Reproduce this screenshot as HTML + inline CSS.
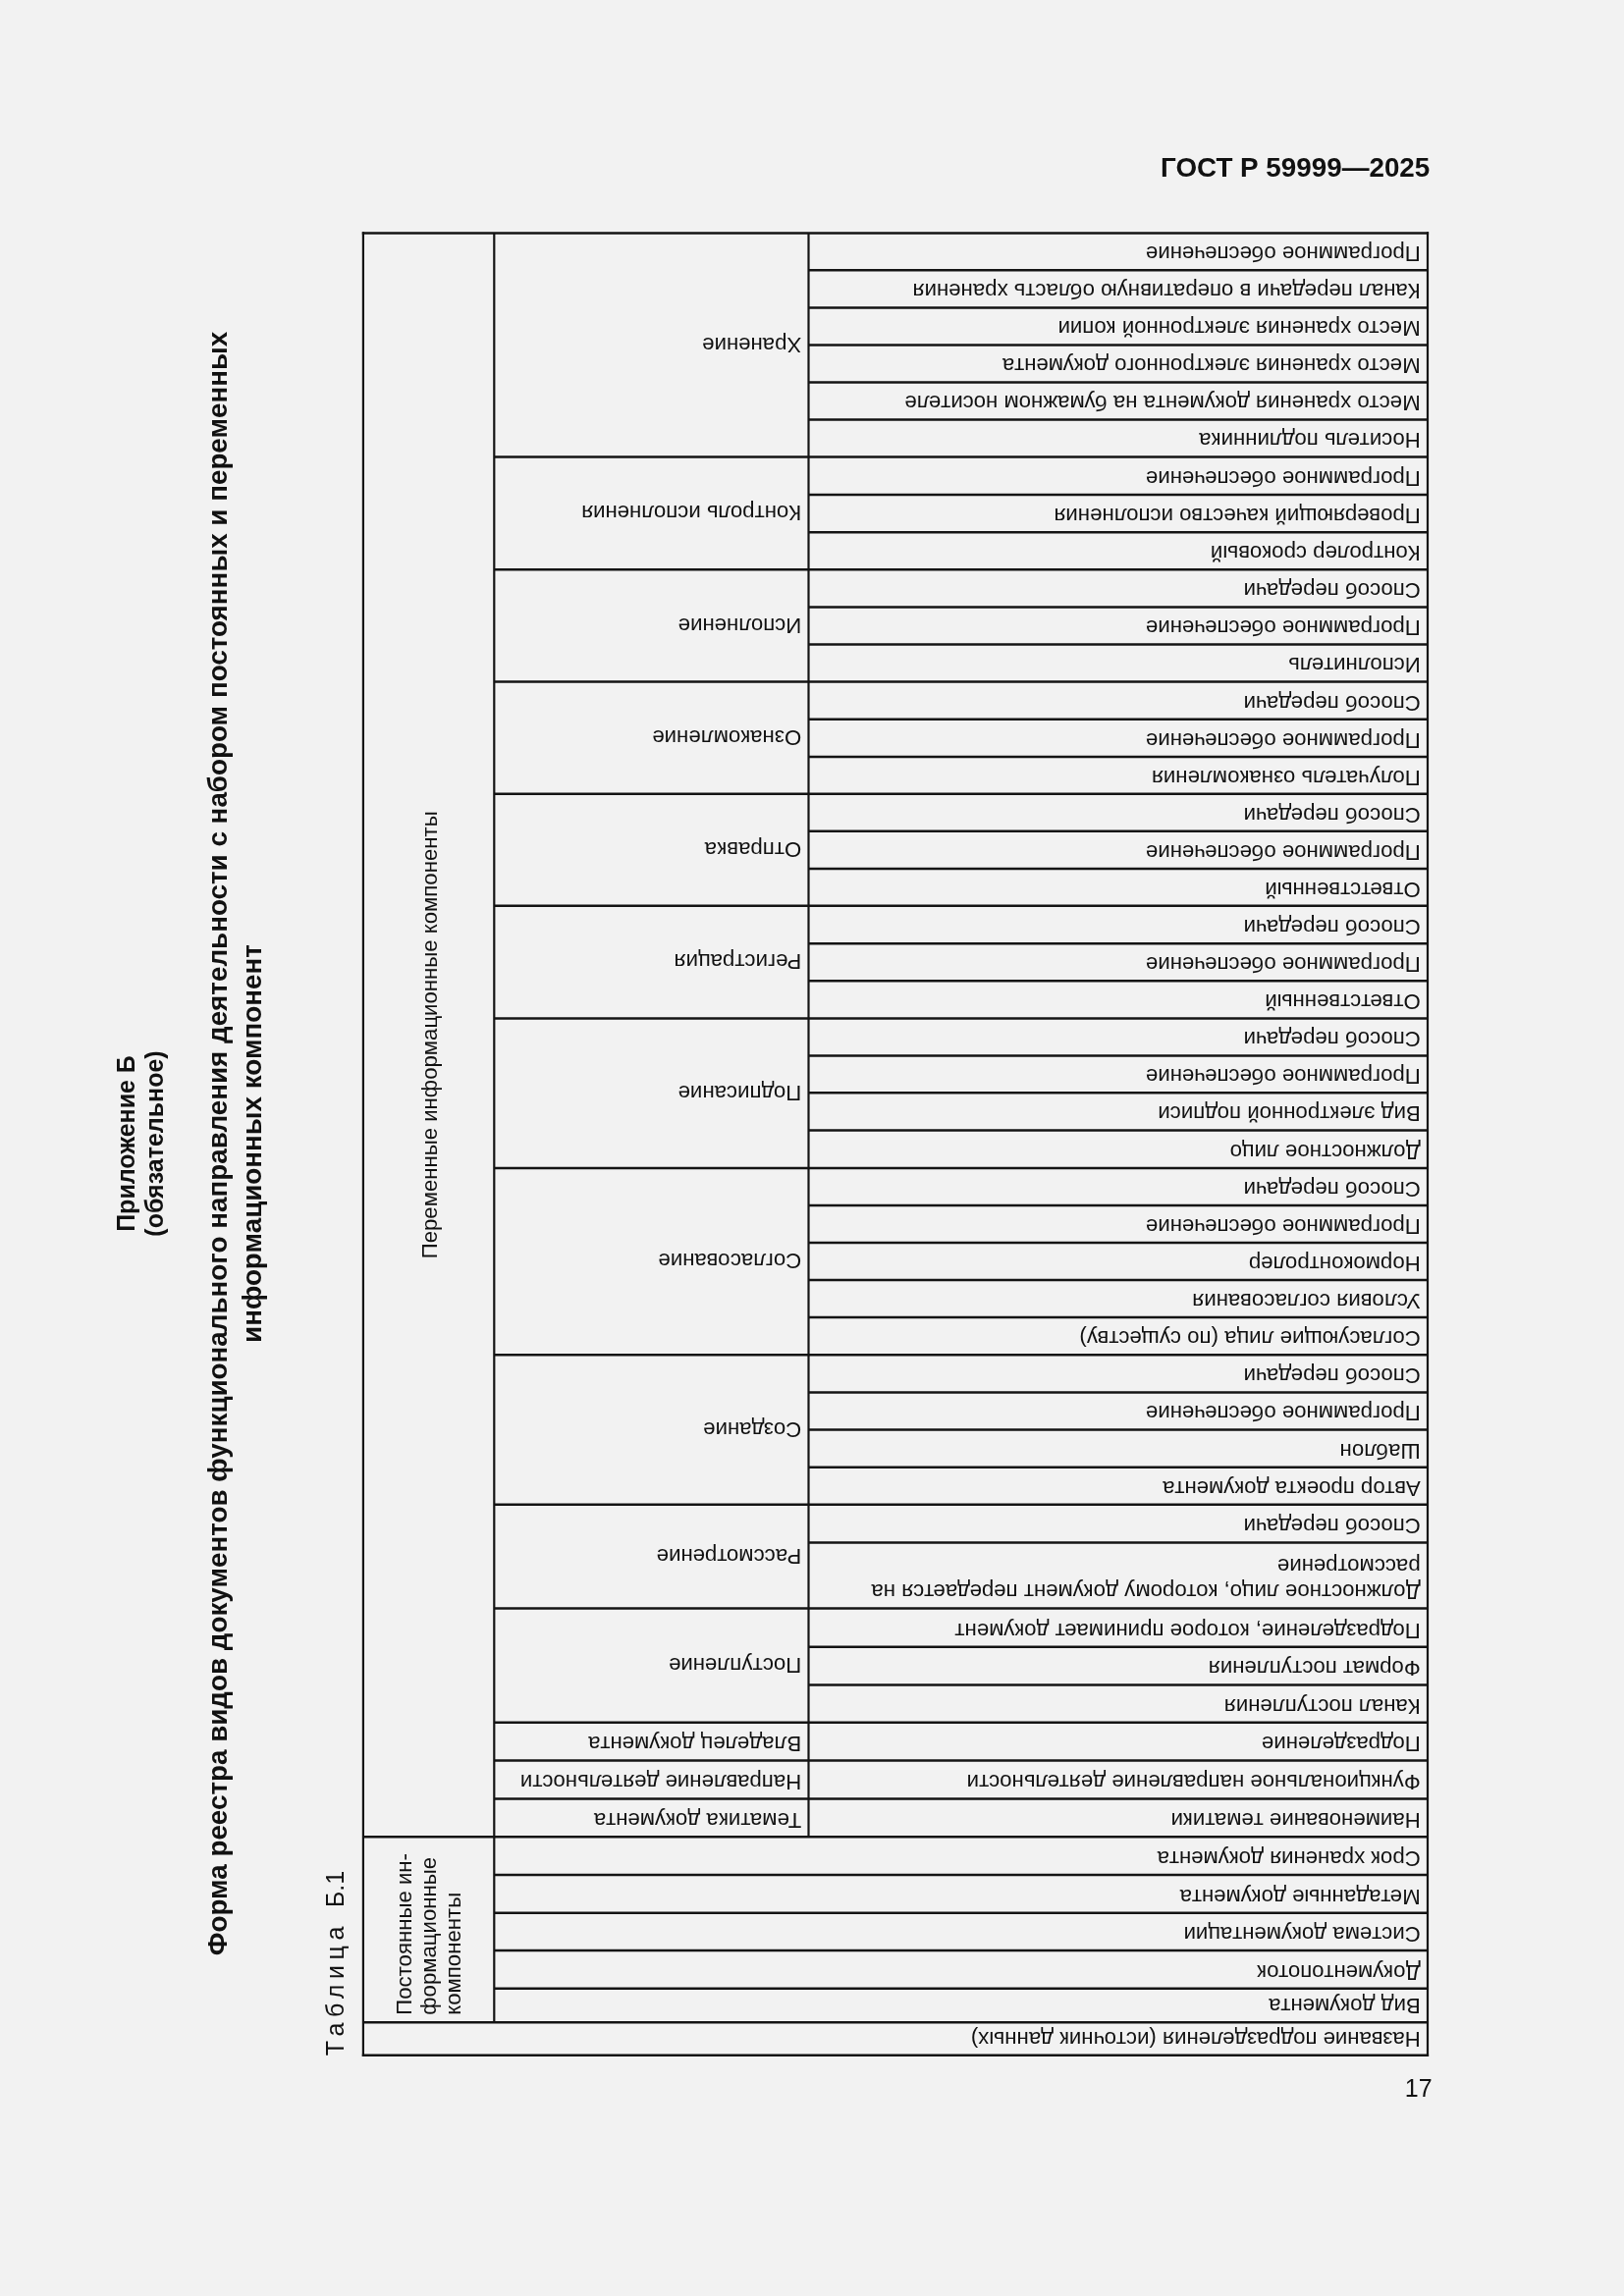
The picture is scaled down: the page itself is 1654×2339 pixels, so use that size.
<!DOCTYPE html>
<html><head><meta charset="utf-8"><title>ГОСТ Р 59999—2025</title>
<style>
html,body{margin:0;padding:0;background:#f2f2f2;}
body{width:1654px;height:2339px;overflow:hidden;position:relative;font-family:"Liberation Sans",sans-serif;}
svg{position:absolute;left:0;top:0;filter:grayscale(1);}
svg text{font-family:"Liberation Sans",sans-serif;fill:#111111;}
</style></head><body>
<svg width="1654" height="2339" viewBox="0 0 1654 2339">
<text x="1456.3" y="180.0" font-size="27.8" font-weight="bold" text-anchor="end">ГОСТ Р 59999—2025</text>
<text x="1458.6" y="2136" font-size="25" text-anchor="end">17</text>
<g>
<text x="136.6" y="1165" transform="rotate(-90 136.6 1165)" font-size="25" font-weight="bold" text-anchor="middle">Приложение Б</text>
<text x="166.3" y="1165" transform="rotate(-90 166.3 1165)" font-size="25" font-weight="bold" text-anchor="middle">(обязательное)</text>
<text x="231" y="1165" transform="rotate(-90 231 1165)" font-size="27.8" font-weight="bold" text-anchor="middle">Форма реестра видов документов функционального направления деятельности с набором постоянных и переменных</text>
<text x="265.5" y="1165" transform="rotate(-90 265.5 1165)" font-size="27.8" font-weight="bold" text-anchor="middle">информационных компонент</text>
<text x="349.8" y="2094.3" transform="rotate(-90 349.8 2094.3)" font-size="25"><tspan letter-spacing="5.6">Таблица</tspan><tspan dx="7"> Б.1</tspan></text>
</g>
<g stroke="#141414" fill="none" stroke-linecap="butt">
<line x1="368.80" y1="237.40" x2="1455.10" y2="237.40" stroke-width="2.5"/>
<line x1="368.80" y1="2093.80" x2="1455.10" y2="2093.80" stroke-width="2.5"/>
<line x1="369.90" y1="236.15" x2="369.90" y2="2095.05" stroke-width="2.2"/>
<line x1="1454.00" y1="236.15" x2="1454.00" y2="2095.05" stroke-width="2.2"/>
<line x1="503.30" y1="237.40" x2="503.30" y2="2060.30" stroke-width="2.2"/>
<line x1="823.50" y1="237.40" x2="823.50" y2="1871.20" stroke-width="2.2"/>
<line x1="823.50" y1="275.20" x2="1454.00" y2="275.20" stroke-width="2.5"/>
<line x1="823.50" y1="313.60" x2="1454.00" y2="313.60" stroke-width="2.5"/>
<line x1="823.50" y1="351.60" x2="1454.00" y2="351.60" stroke-width="2.5"/>
<line x1="823.50" y1="389.60" x2="1454.00" y2="389.60" stroke-width="2.5"/>
<line x1="823.50" y1="427.60" x2="1454.00" y2="427.60" stroke-width="2.5"/>
<line x1="503.30" y1="465.60" x2="1454.00" y2="465.60" stroke-width="2.5"/>
<line x1="823.50" y1="503.90" x2="1454.00" y2="503.90" stroke-width="2.5"/>
<line x1="823.50" y1="542.20" x2="1454.00" y2="542.20" stroke-width="2.5"/>
<line x1="503.30" y1="580.30" x2="1454.00" y2="580.30" stroke-width="2.5"/>
<line x1="823.50" y1="618.40" x2="1454.00" y2="618.40" stroke-width="2.5"/>
<line x1="823.50" y1="656.50" x2="1454.00" y2="656.50" stroke-width="2.5"/>
<line x1="503.30" y1="694.60" x2="1454.00" y2="694.60" stroke-width="2.5"/>
<line x1="823.50" y1="732.80" x2="1454.00" y2="732.80" stroke-width="2.5"/>
<line x1="823.50" y1="770.90" x2="1454.00" y2="770.90" stroke-width="2.5"/>
<line x1="503.30" y1="808.70" x2="1454.00" y2="808.70" stroke-width="2.5"/>
<line x1="823.50" y1="846.80" x2="1454.00" y2="846.80" stroke-width="2.5"/>
<line x1="823.50" y1="884.90" x2="1454.00" y2="884.90" stroke-width="2.5"/>
<line x1="503.30" y1="922.70" x2="1454.00" y2="922.70" stroke-width="2.5"/>
<line x1="823.50" y1="961.20" x2="1454.00" y2="961.20" stroke-width="2.5"/>
<line x1="823.50" y1="999.30" x2="1454.00" y2="999.30" stroke-width="2.5"/>
<line x1="503.30" y1="1037.40" x2="1454.00" y2="1037.40" stroke-width="2.5"/>
<line x1="823.50" y1="1075.50" x2="1454.00" y2="1075.50" stroke-width="2.5"/>
<line x1="823.50" y1="1113.30" x2="1454.00" y2="1113.30" stroke-width="2.5"/>
<line x1="823.50" y1="1151.60" x2="1454.00" y2="1151.60" stroke-width="2.5"/>
<line x1="503.30" y1="1189.90" x2="1454.00" y2="1189.90" stroke-width="2.5"/>
<line x1="823.50" y1="1228.00" x2="1454.00" y2="1228.00" stroke-width="2.5"/>
<line x1="823.50" y1="1265.90" x2="1454.00" y2="1265.90" stroke-width="2.5"/>
<line x1="823.50" y1="1304.00" x2="1454.00" y2="1304.00" stroke-width="2.5"/>
<line x1="823.50" y1="1341.90" x2="1454.00" y2="1341.90" stroke-width="2.5"/>
<line x1="503.30" y1="1380.20" x2="1454.00" y2="1380.20" stroke-width="2.5"/>
<line x1="823.50" y1="1418.40" x2="1454.00" y2="1418.40" stroke-width="2.5"/>
<line x1="823.50" y1="1456.40" x2="1454.00" y2="1456.40" stroke-width="2.5"/>
<line x1="823.50" y1="1494.70" x2="1454.00" y2="1494.70" stroke-width="2.5"/>
<line x1="503.30" y1="1532.80" x2="1454.00" y2="1532.80" stroke-width="2.5"/>
<line x1="823.50" y1="1571.40" x2="1454.00" y2="1571.40" stroke-width="2.5"/>
<line x1="503.30" y1="1638.60" x2="1454.00" y2="1638.60" stroke-width="2.5"/>
<line x1="823.50" y1="1677.70" x2="1454.00" y2="1677.70" stroke-width="2.5"/>
<line x1="823.50" y1="1716.40" x2="1454.00" y2="1716.40" stroke-width="2.5"/>
<line x1="503.30" y1="1754.70" x2="1454.00" y2="1754.70" stroke-width="2.5"/>
<line x1="503.30" y1="1793.60" x2="1454.00" y2="1793.60" stroke-width="2.5"/>
<line x1="503.30" y1="1832.40" x2="1454.00" y2="1832.40" stroke-width="2.5"/>
<line x1="369.90" y1="1871.20" x2="1454.00" y2="1871.20" stroke-width="2.5"/>
<line x1="503.30" y1="1910.00" x2="1454.00" y2="1910.00" stroke-width="2.5"/>
<line x1="503.30" y1="1948.80" x2="1454.00" y2="1948.80" stroke-width="2.5"/>
<line x1="503.30" y1="1987.00" x2="1454.00" y2="1987.00" stroke-width="2.5"/>
<line x1="503.30" y1="2025.80" x2="1454.00" y2="2025.80" stroke-width="2.5"/>
<line x1="369.90" y1="2060.30" x2="1454.00" y2="2060.30" stroke-width="2.5"/>
</g>
<g>
<text x="1446.70" y="251.00" transform="rotate(180 1446.70 251.00)" font-size="22.2" text-anchor="start">Программное обеспечение</text>
<text x="1446.70" y="289.40" transform="rotate(180 1446.70 289.40)" font-size="22.2" text-anchor="start">Канал передачи в оперативную область хранения</text>
<text x="1446.70" y="327.40" transform="rotate(180 1446.70 327.40)" font-size="22.2" text-anchor="start">Место хранения электронной копии</text>
<text x="1446.70" y="365.40" transform="rotate(180 1446.70 365.40)" font-size="22.2" text-anchor="start">Место хранения электронного документа</text>
<text x="1446.70" y="403.40" transform="rotate(180 1446.70 403.40)" font-size="22.2" text-anchor="start">Место хранения документа на бумажном носителе</text>
<text x="1446.70" y="441.40" transform="rotate(180 1446.70 441.40)" font-size="22.2" text-anchor="start">Носитель подлинника</text>
<text x="1446.70" y="479.70" transform="rotate(180 1446.70 479.70)" font-size="22.2" text-anchor="start">Программное обеспечение</text>
<text x="1446.70" y="518.00" transform="rotate(180 1446.70 518.00)" font-size="22.2" text-anchor="start">Проверяющий качество исполнения</text>
<text x="1446.70" y="556.10" transform="rotate(180 1446.70 556.10)" font-size="22.2" text-anchor="start">Контролер сроковый</text>
<text x="1446.70" y="594.20" transform="rotate(180 1446.70 594.20)" font-size="22.2" text-anchor="start">Способ передачи</text>
<text x="1446.70" y="632.30" transform="rotate(180 1446.70 632.30)" font-size="22.2" text-anchor="start">Программное обеспечение</text>
<text x="1446.70" y="670.40" transform="rotate(180 1446.70 670.40)" font-size="22.2" text-anchor="start">Исполнитель</text>
<text x="1446.70" y="708.60" transform="rotate(180 1446.70 708.60)" font-size="22.2" text-anchor="start">Способ передачи</text>
<text x="1446.70" y="746.70" transform="rotate(180 1446.70 746.70)" font-size="22.2" text-anchor="start">Программное обеспечение</text>
<text x="1446.70" y="784.50" transform="rotate(180 1446.70 784.50)" font-size="22.2" text-anchor="start">Получатель ознакомления</text>
<text x="1446.70" y="822.60" transform="rotate(180 1446.70 822.60)" font-size="22.2" text-anchor="start">Способ передачи</text>
<text x="1446.70" y="860.70" transform="rotate(180 1446.70 860.70)" font-size="22.2" text-anchor="start">Программное обеспечение</text>
<text x="1446.70" y="898.50" transform="rotate(180 1446.70 898.50)" font-size="22.2" text-anchor="start">Ответственный</text>
<text x="1446.70" y="937.00" transform="rotate(180 1446.70 937.00)" font-size="22.2" text-anchor="start">Способ передачи</text>
<text x="1446.70" y="975.10" transform="rotate(180 1446.70 975.10)" font-size="22.2" text-anchor="start">Программное обеспечение</text>
<text x="1446.70" y="1013.20" transform="rotate(180 1446.70 1013.20)" font-size="22.2" text-anchor="start">Ответственный</text>
<text x="1446.70" y="1051.30" transform="rotate(180 1446.70 1051.30)" font-size="22.2" text-anchor="start">Способ передачи</text>
<text x="1446.70" y="1089.10" transform="rotate(180 1446.70 1089.10)" font-size="22.2" text-anchor="start">Программное обеспечение</text>
<text x="1446.70" y="1127.40" transform="rotate(180 1446.70 1127.40)" font-size="22.2" text-anchor="start">Вид электронной подписи</text>
<text x="1446.70" y="1165.70" transform="rotate(180 1446.70 1165.70)" font-size="22.2" text-anchor="start">Должностное лицо</text>
<text x="1446.70" y="1203.80" transform="rotate(180 1446.70 1203.80)" font-size="22.2" text-anchor="start">Способ передачи</text>
<text x="1446.70" y="1241.70" transform="rotate(180 1446.70 1241.70)" font-size="22.2" text-anchor="start">Программное обеспечение</text>
<text x="1446.70" y="1279.80" transform="rotate(180 1446.70 1279.80)" font-size="22.2" text-anchor="start">Нормоконтролер</text>
<text x="1446.70" y="1317.70" transform="rotate(180 1446.70 1317.70)" font-size="22.2" text-anchor="start">Условия согласования</text>
<text x="1446.70" y="1356.00" transform="rotate(180 1446.70 1356.00)" font-size="22.2" text-anchor="start">Согласующие лица (по существу)</text>
<text x="1446.70" y="1394.20" transform="rotate(180 1446.70 1394.20)" font-size="22.2" text-anchor="start">Способ передачи</text>
<text x="1446.70" y="1432.20" transform="rotate(180 1446.70 1432.20)" font-size="22.2" text-anchor="start">Программное обеспечение</text>
<text x="1446.70" y="1470.50" transform="rotate(180 1446.70 1470.50)" font-size="22.2" text-anchor="start">Шаблон</text>
<text x="1446.70" y="1508.60" transform="rotate(180 1446.70 1508.60)" font-size="22.2" text-anchor="start">Автор проекта документа</text>
<text x="1446.70" y="1547.20" transform="rotate(180 1446.70 1547.20)" font-size="22.2" text-anchor="start">Способ передачи</text>
<text x="1446.70" y="1614.40" transform="rotate(180 1446.70 1614.40)" font-size="22.2" text-anchor="start">Должностное лицо, которому документ передается на</text>
<text x="1446.70" y="1588.40" transform="rotate(180 1446.70 1588.40)" font-size="22.2" text-anchor="start">рассмотрение</text>
<text x="1446.70" y="1653.50" transform="rotate(180 1446.70 1653.50)" font-size="22.2" text-anchor="start">Подразделение, которое принимает документ</text>
<text x="1446.70" y="1692.20" transform="rotate(180 1446.70 1692.20)" font-size="22.2" text-anchor="start">Формат поступления</text>
<text x="1446.70" y="1730.50" transform="rotate(180 1446.70 1730.50)" font-size="22.2" text-anchor="start">Канал поступления</text>
<text x="1446.70" y="1769.40" transform="rotate(180 1446.70 1769.40)" font-size="22.2" text-anchor="start">Подразделение</text>
<text x="1446.70" y="1808.20" transform="rotate(180 1446.70 1808.20)" font-size="22.2" text-anchor="start">Функциональное направление деятельности</text>
<text x="1446.70" y="1847.00" transform="rotate(180 1446.70 1847.00)" font-size="22.2" text-anchor="start">Наименование тематики</text>
<text x="816.20" y="343.55" transform="rotate(180 816.20 343.55)" font-size="22.2" text-anchor="start">Хранение</text>
<text x="816.20" y="515.00" transform="rotate(180 816.20 515.00)" font-size="22.2" text-anchor="start">Контроль исполнения</text>
<text x="816.20" y="629.50" transform="rotate(180 816.20 629.50)" font-size="22.2" text-anchor="start">Исполнение</text>
<text x="816.20" y="743.70" transform="rotate(180 816.20 743.70)" font-size="22.2" text-anchor="start">Ознакомление</text>
<text x="816.20" y="857.75" transform="rotate(180 816.20 857.75)" font-size="22.2" text-anchor="start">Отправка</text>
<text x="816.20" y="972.10" transform="rotate(180 816.20 972.10)" font-size="22.2" text-anchor="start">Регистрация</text>
<text x="816.20" y="1105.70" transform="rotate(180 816.20 1105.70)" font-size="22.2" text-anchor="start">Подписание</text>
<text x="816.20" y="1277.10" transform="rotate(180 816.20 1277.10)" font-size="22.2" text-anchor="start">Согласование</text>
<text x="816.20" y="1448.55" transform="rotate(180 816.20 1448.55)" font-size="22.2" text-anchor="start">Создание</text>
<text x="816.20" y="1577.75" transform="rotate(180 816.20 1577.75)" font-size="22.2" text-anchor="start">Рассмотрение</text>
<text x="816.20" y="1688.70" transform="rotate(180 816.20 1688.70)" font-size="22.2" text-anchor="start">Поступление</text>
<text x="816.20" y="1769.40" transform="rotate(180 816.20 1769.40)" font-size="22.2" text-anchor="start">Владелец документа</text>
<text x="816.20" y="1808.20" transform="rotate(180 816.20 1808.20)" font-size="22.2" text-anchor="start">Направление деятельности</text>
<text x="816.20" y="1847.00" transform="rotate(180 816.20 1847.00)" font-size="22.2" text-anchor="start">Тематика документа</text>
<text x="1446.70" y="1885.80" transform="rotate(180 1446.70 1885.80)" font-size="22.2" text-anchor="start">Срок хранения документа</text>
<text x="1446.70" y="1924.60" transform="rotate(180 1446.70 1924.60)" font-size="22.2" text-anchor="start">Метаданные документа</text>
<text x="1446.70" y="1962.80" transform="rotate(180 1446.70 1962.80)" font-size="22.2" text-anchor="start">Система документации</text>
<text x="1446.70" y="2001.60" transform="rotate(180 1446.70 2001.60)" font-size="22.2" text-anchor="start">Документопоток</text>
<text x="1446.70" y="2036.10" transform="rotate(180 1446.70 2036.10)" font-size="22.2" text-anchor="start">Вид документа</text>
<text x="1446.70" y="2069.60" transform="rotate(180 1446.70 2069.60)" font-size="22.2" text-anchor="start">Название подразделения (источник данных)</text>
<text x="444.60" y="1054.30" transform="rotate(-90 444.60 1054.30)" font-size="22.2" text-anchor="middle">Переменные информационные компоненты</text>
<text x="419.10" y="2052.70" transform="rotate(-90 419.10 2052.70)" font-size="22.2" text-anchor="start">Постоянные ин-</text>
<text x="444.10" y="2052.70" transform="rotate(-90 444.10 2052.70)" font-size="22.2" text-anchor="start">формационные</text>
<text x="469.10" y="2052.70" transform="rotate(-90 469.10 2052.70)" font-size="22.2" text-anchor="start">компоненты</text>
</g>
</svg>
</body></html>
